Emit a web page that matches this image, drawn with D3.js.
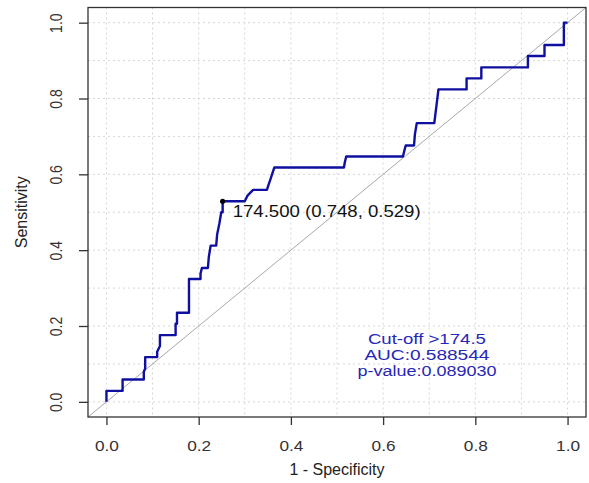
<!DOCTYPE html>
<html><head><meta charset="utf-8">
<script src="https://cdn.jsdelivr.net/npm/d3@7"></script>
<style>body{margin:0;background:#fff}svg{display:block}text{font-family:"Liberation Sans",Arial,sans-serif}</style>
</head><body>
<script>
// 1 - specificity (x) and sensitivity (y) of the ROC curve
const fpr = [0,0,0.035,0.035,0.081,0.081,0.084,0.084,0.110,0.110,0.116,0.116,0.150,0.150,0.153,0.153,0.179,0.179,0.204,0.204,0.207,0.220,0.222,0.226,0.238,0.240,0.245,0.249,0.252,0.252,0.300,0.306,0.318,0.348,0.352,0.356,0.360,0.364,0.515,0.517,0.520,0.643,0.646,0.649,0.667,0.669,0.673,0.711,0.714,0.717,0.720,0.781,0.781,0.813,0.813,0.914,0.914,0.950,0.950,0.992,0.992,1];
const tpr = [0,0.029,0.029,0.059,0.059,0.079,0.088,0.118,0.118,0.132,0.147,0.176,0.176,0.206,0.206,0.235,0.235,0.324,0.324,0.338,0.353,0.353,0.382,0.412,0.412,0.441,0.471,0.500,0.500,0.529,0.529,0.544,0.559,0.559,0.574,0.588,0.603,0.618,0.618,0.632,0.647,0.647,0.662,0.676,0.676,0.706,0.735,0.735,0.765,0.794,0.824,0.824,0.853,0.853,0.882,0.882,0.912,0.912,0.941,0.941,1,1];
const bestPoint = {x: 0.252, y: 0.529, label: "174.500 (0.748, 0.529)"};
const xTicks = [0, 0.2, 0.4, 0.6, 0.8, 1.0];
const yTicks = [0, 0.2, 0.4, 0.6, 0.8, 1.0];
const gridVals = [0,0.1,0.2,0.3,0.4,0.5,0.6,0.7,0.8,0.9,1.0];
const statsLines = ["Cut-off >174.5", "AUC:0.588544", "p-value:0.089030"];
const xTitle = "1 - Specificity", yTitle = "Sensitivity";

const W = 589, H = 483;
const L = 88, R = 586, T = 7.5, B = 417;
const x = d3.scaleLinear().domain([-0.04, 1.04]).range([L, R]);
const y = d3.scaleLinear().domain([-0.04, 1.04]).range([B, T]);

const svg = d3.select("body").append("svg").attr("width", W).attr("height", H);

// grid
const g = svg.append("g");
g.selectAll(".gv").data(gridVals).enter().append("line")
  .attr("x1", d => x(d)).attr("x2", d => x(d)).attr("y1", T).attr("y2", B)
  .attr("stroke", "#d6d6d6").attr("stroke-dasharray", "2,3").attr("stroke-width", 1);
g.selectAll(".gh").data(gridVals).enter().append("line")
  .attr("y1", d => y(d)).attr("y2", d => y(d)).attr("x1", L).attr("x2", R)
  .attr("stroke", "#d6d6d6").attr("stroke-dasharray", "2,3").attr("stroke-width", 1);

// diagonal reference
svg.append("line").attr("x1", x(-0.04)).attr("y1", y(-0.04)).attr("x2", x(1.04)).attr("y2", y(1.04))
  .attr("stroke", "#a8a8a8").attr("stroke-width", 1);

// ROC curve
const pts = fpr.map((d, i) => [d, tpr[i]]);
svg.append("path").datum(pts)
  .attr("d", d3.line().x(d => x(d[0])).y(d => y(d[1])))
  .attr("fill", "none").attr("stroke", "#1010a0").attr("stroke-width", 2.4).attr("stroke-linejoin", "round");

// best point
svg.append("circle").attr("cx", x(bestPoint.x)).attr("cy", y(bestPoint.y)).attr("r", 2.6).attr("fill", "#000");
svg.append("text").attr("x", x(bestPoint.x) + 10).attr("y", y(bestPoint.y) + 16)
  .attr("font-size", 16).attr("fill", "#111")
  .attr("textLength", 188).attr("lengthAdjust", "spacingAndGlyphs")
  .text(bestPoint.label);

// stats text
const statsLen = [118, 125, 139];
svg.selectAll(".st").data(statsLines).enter().append("text")
  .attr("x", x(0.695)).attr("y", (d, i) => 344 + i * 16.2)
  .attr("text-anchor", "middle").attr("font-size", 15.5).attr("fill", "#2626b8")
  .attr("textLength", (d, i) => statsLen[i]).attr("lengthAdjust", "spacingAndGlyphs")
  .text(d => d);

// box
svg.append("rect").attr("x", L).attr("y", T).attr("width", R - L).attr("height", B - T)
  .attr("fill", "none").attr("stroke", "#333").attr("stroke-width", 1.3);

// axes
const xa = svg.append("g").attr("transform", `translate(0,${B})`)
  .call(d3.axisBottom(x).tickValues(xTicks).tickFormat(d3.format(".1f")).tickSize(8).tickSizeOuter(0).tickPadding(0));
xa.select(".domain").remove();
xa.selectAll("line").attr("stroke", "#333").attr("stroke-width", 1.3);
xa.selectAll("text").attr("font-size", 15).attr("fill", "#333").attr("dy", null).attr("y", 34)
  .attr("transform", "scale(1.15,1)").attr("font-family", "Liberation Sans, Arial, sans-serif");

const ya = svg.append("g").attr("transform", `translate(${L},0)`)
  .call(d3.axisLeft(y).tickValues(yTicks).tickFormat(d3.format(".1f")).tickSize(9).tickSizeOuter(0));
ya.select(".domain").remove();
ya.selectAll("line").attr("stroke", "#333").attr("stroke-width", 1.3);
ya.selectAll("text").attr("font-size", 14).attr("fill", "#333")
  .attr("x", null).attr("dy", null).attr("text-anchor", "middle")
  .attr("transform", "translate(-26,0) scale(1.2,1) rotate(-90)")
  .attr("font-family", "Liberation Sans, Arial, sans-serif");

// titles
svg.append("text").attr("x", (x(0) + x(1)) / 2).attr("y", 475).attr("text-anchor", "middle")
  .attr("font-size", 16).attr("fill", "#222").text(xTitle);
svg.append("text").attr("transform", `translate(27,${(y(0) + y(1)) / 2}) rotate(-90)`).attr("text-anchor", "middle")
  .attr("font-size", 16).attr("fill", "#222").text(yTitle);
</script>
</body></html>
